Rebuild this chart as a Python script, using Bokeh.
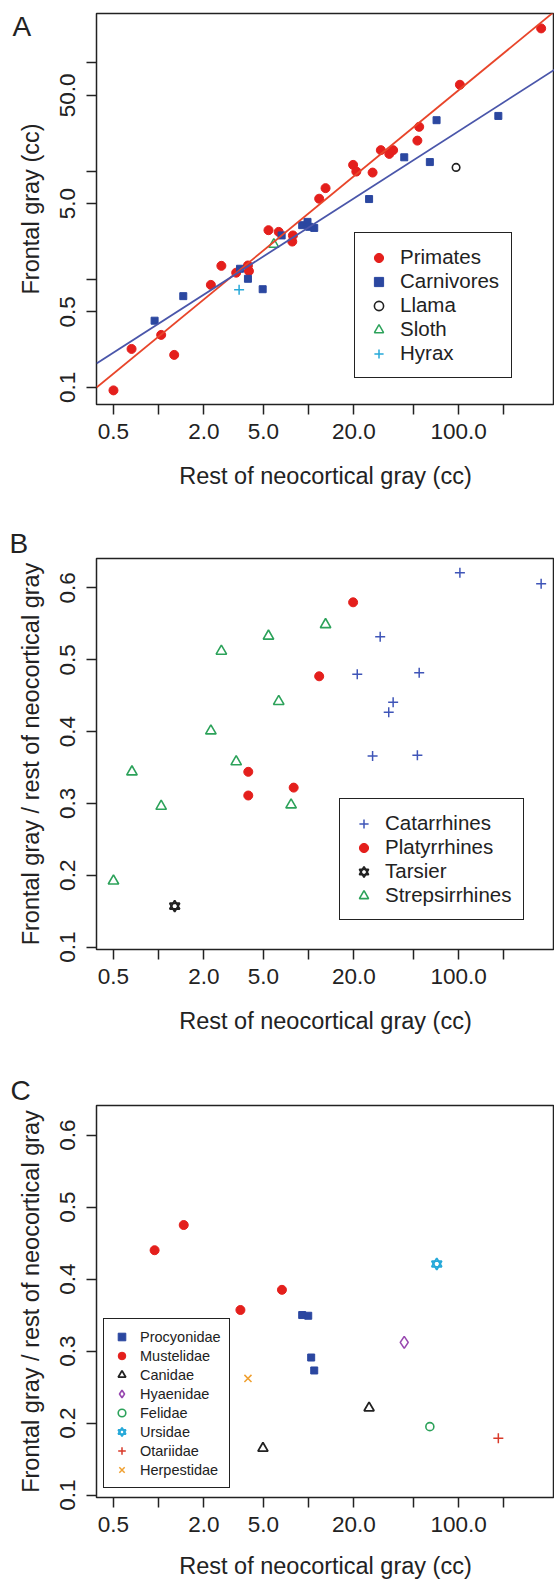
import numpy as np
from bokeh.plotting import figure
from bokeh.models import (FixedTicker, PrintfTickFormatter, Legend, LegendItem,
                          Title, Range1d)
from bokeh.layouts import column
from bokeh.embed import file_html
from bokeh.resources import INLINE

# ---------------- data ----------------
# Panel A: frontal gray vs rest of neocortical gray (cc)
primates_x = [0.50, 0.66, 1.04, 1.27, 2.23, 2.62, 3.29, 3.94, 4.0, 5.40, 6.32, 7.86, 7.78,
              11.76, 12.97, 19.8, 20.8, 26.7, 30.3, 34.5, 36.6, 53.1, 54.6, 102, 355]
primates_y = [0.094, 0.227, 0.306, 0.200, 0.887, 1.33, 1.15, 1.34, 1.19, 2.84, 2.74, 2.54, 2.23,
              5.55, 6.95, 11.4, 9.89, 9.68, 15.6, 14.4, 15.6, 19.1, 25.6, 62.7, 208]
carnivores_x = [0.94, 1.46, 3.49, 3.94, 4.94, 6.61, 9.06, 9.83, 10.1, 10.9, 25.3, 43.4, 64.3, 71.3, 184]
carnivores_y = [0.414, 0.698, 1.25, 1.01, 0.809, 2.54, 3.16, 3.39, 3.05, 2.98, 5.51, 13.4, 12.1, 29.5, 32.3]
llama_x, llama_y = [96.2], [10.8]
sloth_x, sloth_y = [5.86], [2.10]
hyrax_x, hyrax_y = [3.44], [0.798]
# fitted lines (log10 y = a + b log10 x)
primate_fit = (-0.529, 1.138)
carnivore_fit = (-0.410, 0.889)

# Panel B: ratio, primates
catarrhines_x = [102, 355, 30.0, 21.1, 54.6, 36.6, 34.2, 26.7, 53.1]
catarrhines_y = [0.621, 0.606, 0.532, 0.480, 0.482, 0.441, 0.427, 0.366, 0.367]
platyrrhines_x = [19.8, 11.76, 3.96, 3.96, 7.95]
platyrrhines_y = [0.580, 0.477, 0.344, 0.311, 0.322]
tarsier_x, tarsier_y = [1.28], [0.157]
strepsirrhines_x = [0.50, 0.664, 1.04, 2.23, 2.62, 3.29, 5.40, 6.32, 7.64, 12.97]
strepsirrhines_y = [0.192, 0.344, 0.296, 0.401, 0.512, 0.358, 0.533, 0.442, 0.298, 0.549]

# Panel C: ratio, carnivores
procyonidae_x = [9.06, 9.94, 10.4, 10.9]
procyonidae_y = [0.350, 0.349, 0.291, 0.273]
mustelidae_x = [0.94, 1.47, 3.51, 6.64]
mustelidae_y = [0.440, 0.475, 0.357, 0.385]
canidae_x = [4.96, 25.3]
canidae_y = [0.165, 0.221]
hyaenidae_x, hyaenidae_y = [43.4], [0.312]
felidae_x, felidae_y = [64.3], [0.195]
ursidae_x, ursidae_y = [71.5], [0.421]
otariidae_x, otariidae_y = [184], [0.179]
herpestidae_x, herpestidae_y = [3.94], [0.262]

# ticks
x_ticks = [0.5, 2, 5, 20, 100]
x_minor_ticks = [1, 10, 50, 200]
ya_ticks = [0.1, 0.5, 5, 50]
ya_minor_ticks = [1, 10, 100]
yr_ticks = [0.1, 0.2, 0.3, 0.4, 0.5, 0.6]

X_RANGE = (0.3853, 435.8)
YA_RANGE = (0.0696, 285.6)
YR_RANGE = (0.0966, 0.641)

# ---------------- style ----------------
FONT = "Liberation Sans"
INK = "#222222"
RED = "#e41f1c"
BLUE = "#2b47a0"
CAT_BLUE = "#3f55b8"
GREEN = "#2ca25a"
CYAN = "#27a9d9"
PURPLE = "#9848b0"
ORANGE = "#f0a030"
OTA_RED = "#d93a2a"
RED_LINE = "#e8452a"
BLUE_LINE = "#4a56aa"


def make_fig(height, top, bottom, y_range, y_type, y_major, y_minor, ylabel, xlab_standoff):
    p = figure(width=554, height=height, x_axis_type="log", y_axis_type=y_type,
               x_range=Range1d(*X_RANGE), y_range=Range1d(*y_range),
               output_backend="svg", toolbar_location=None,
               min_border_left=96, min_border_right=0,
               min_border_top=top, min_border_bottom=bottom)
    p.grid.visible = False
    p.outline_line_color = INK
    p.outline_line_width = 1.5
    p.outline_line_alpha = 1.0
    p.background_fill_color = "white"
    p.border_fill_color = "white"

    xa = p.xaxis[0]
    xa.ticker = FixedTicker(ticks=x_ticks, minor_ticks=x_minor_ticks)
    xa.formatter = PrintfTickFormatter(format="%.1f")
    xa.axis_label = "Rest of neocortical gray (cc)"
    xa.axis_label_standoff = xlab_standoff
    xa.major_label_standoff = 9

    ya = p.yaxis[0]
    ya.ticker = FixedTicker(ticks=y_major, minor_ticks=y_minor)
    ya.formatter = PrintfTickFormatter(format="%.1f")
    ya.axis_label = ylabel
    ya.axis_label_standoff = 14
    ya.major_label_standoff = 11
    ya.major_label_orientation = "vertical"

    for ax in (xa, ya):
        ax.axis_line_color = None
        ax.major_tick_in = 0
        ax.major_tick_out = 10
        ax.minor_tick_in = 0
        ax.minor_tick_out = 10
        ax.major_tick_line_color = INK
        ax.minor_tick_line_color = INK
        ax.major_tick_line_width = 1.5
        ax.minor_tick_line_width = 1.5
        ax.major_label_text_font = FONT
        ax.major_label_text_font_size = "22.5px"
        ax.major_label_text_color = INK
        ax.axis_label_text_font = FONT
        ax.axis_label_text_font_size = "23.5px"
        ax.axis_label_text_font_style = "normal"
        ax.axis_label_text_color = INK
    return p


def letter(p, text, valign, standoff, offset, line_height=1.2):
    p.title = Title(text=text, align="left", vertical_align=valign, offset=offset,
                    standoff=standoff, text_font=FONT, text_font_size="28px",
                    text_font_style="normal", text_color=INK,
                    text_line_height=line_height)


def legend(p, items, loc, font_size, glyph, padding, standoff):
    lg = Legend(items=items, location=loc,
                glyph_width=glyph, glyph_height=glyph, label_height=glyph,
                padding=padding, spacing=0, label_standoff=standoff, margin=0,
                label_text_font=FONT, label_text_font_size=font_size,
                label_text_color=INK, border_line_color=INK, border_line_width=1.5,
                border_line_alpha=1.0, background_fill_color="white",
                background_fill_alpha=1.0)
    p.add_layout(lg)


# ---------------- Panel A ----------------
pa = make_fig(518, 13, 114, YA_RANGE, "log", ya_ticks, ya_minor_ticks,
              "Frontal gray (cc)", 21)
rA1 = pa.scatter(primates_x, primates_y, marker="circle", size=9, fill_color=RED, line_color=RED)
rA2 = pa.scatter(carnivores_x, carnivores_y, marker="square", size=7, fill_color=BLUE, line_color=BLUE)
rA3 = pa.scatter(llama_x, llama_y, marker="circle", size=7.5, fill_color=None, line_color=INK, line_width=1.6)
rA4 = pa.scatter(sloth_x, sloth_y, marker="triangle", size=10, fill_color=None, line_color=GREEN, line_width=1.5)
rA5 = pa.scatter(hyrax_x, hyrax_y, marker="cross", size=10, line_color=CYAN, line_width=1.5)
fit_x = np.array(X_RANGE)
pa.line(fit_x, 10 ** (primate_fit[0] + primate_fit[1] * np.log10(fit_x)), line_color=RED_LINE, line_width=1.8)
pa.line(fit_x, 10 ** (carnivore_fit[0] + carnivore_fit[1] * np.log10(fit_x)), line_color=BLUE_LINE, line_width=1.8)
legend(pa, [LegendItem(label="Primates", renderers=[rA1]),
            LegendItem(label="Carnivores", renderers=[rA2]),
            LegendItem(label="Llama", renderers=[rA3]),
            LegendItem(label="Sloth", renderers=[rA4]),
            LegendItem(label="Hyrax", renderers=[rA5])],
       (258, 26), "20.5px", 23, 12, 10)
letter(pa, "\nA", "top", -62, -84, 1.05)

# ---------------- Panel B ----------------
pb = make_fig(542, 40, 111, YR_RANGE, "linear", yr_ticks, [],
              "Frontal gray / rest of neocortical gray", 21)
rB1 = pb.scatter(catarrhines_x, catarrhines_y, marker="cross", size=10, line_color=CAT_BLUE, line_width=1.5)
rB2 = pb.scatter(platyrrhines_x, platyrrhines_y, marker="circle", size=9, fill_color=RED, line_color=RED)
rB3a = pb.scatter(tarsier_x, tarsier_y, marker="triangle", size=10, fill_color=None, line_color=INK, line_width=1.8)
rB3b = pb.scatter(tarsier_x, tarsier_y, marker="inverted_triangle", size=10, fill_color=None, line_color=INK, line_width=1.8)
rB4 = pb.scatter(strepsirrhines_x, strepsirrhines_y, marker="triangle", size=10.5, fill_color=None, line_color=GREEN, line_width=1.6)
legend(pb, [LegendItem(label="Catarrhines", renderers=[rB1]),
            LegendItem(label="Platyrrhines", renderers=[rB2]),
            LegendItem(label="Tarsier", renderers=[rB3a, rB3b]),
            LegendItem(label="Strepsirrhines", renderers=[rB4])],
       (243, 29), "20.5px", 23, 12, 10)
letter(pb, "B", "bottom", 0, -87)

# ---------------- Panel C ----------------
pc = make_fig(526, 45, 89, YR_RANGE, "linear", yr_ticks, [],
              "Frontal gray / rest of neocortical gray", 18)
rC1 = pc.scatter(procyonidae_x, procyonidae_y, marker="square", size=7, fill_color=BLUE, line_color=BLUE)
rC2 = pc.scatter(mustelidae_x, mustelidae_y, marker="circle", size=9, fill_color=RED, line_color=RED)
rC3 = pc.scatter(canidae_x, canidae_y, marker="triangle", size=10, fill_color=None, line_color=INK, line_width=1.8)
rC4 = pc.scatter(hyaenidae_x, hyaenidae_y, marker="diamond", size=12, fill_color=None, line_color=PURPLE, line_width=1.6)
rC5 = pc.scatter(felidae_x, felidae_y, marker="circle", size=8, fill_color=None, line_color=GREEN, line_width=1.6)
rC6a = pc.scatter(ursidae_x, ursidae_y, marker="triangle", size=10, fill_color=None, line_color=CYAN, line_width=1.8)
rC6b = pc.scatter(ursidae_x, ursidae_y, marker="inverted_triangle", size=10, fill_color=None, line_color=CYAN, line_width=1.8)
rC7 = pc.scatter(otariidae_x, otariidae_y, marker="cross", size=10, line_color=OTA_RED, line_width=1.5)
rC8 = pc.scatter(herpestidae_x, herpestidae_y, marker="x", size=10, line_color=ORANGE, line_width=1.5)
legend(pc, [LegendItem(label="Procyonidae", renderers=[rC1]),
            LegendItem(label="Mustelidae", renderers=[rC2]),
            LegendItem(label="Canidae", renderers=[rC3]),
            LegendItem(label="Hyaenidae", renderers=[rC4]),
            LegendItem(label="Felidae", renderers=[rC5]),
            LegendItem(label="Ursidae", renderers=[rC6a, rC6b]),
            LegendItem(label="Otariidae", renderers=[rC7]),
            LegendItem(label="Herpestidae", renderers=[rC8])],
       (7, 9), "14.5px", 19, 8, 9)
letter(pc, "C", "bottom", 0, -86)

layout = column(pa, pb, pc)
open("out.html", "w").write(file_html(layout, INLINE))
